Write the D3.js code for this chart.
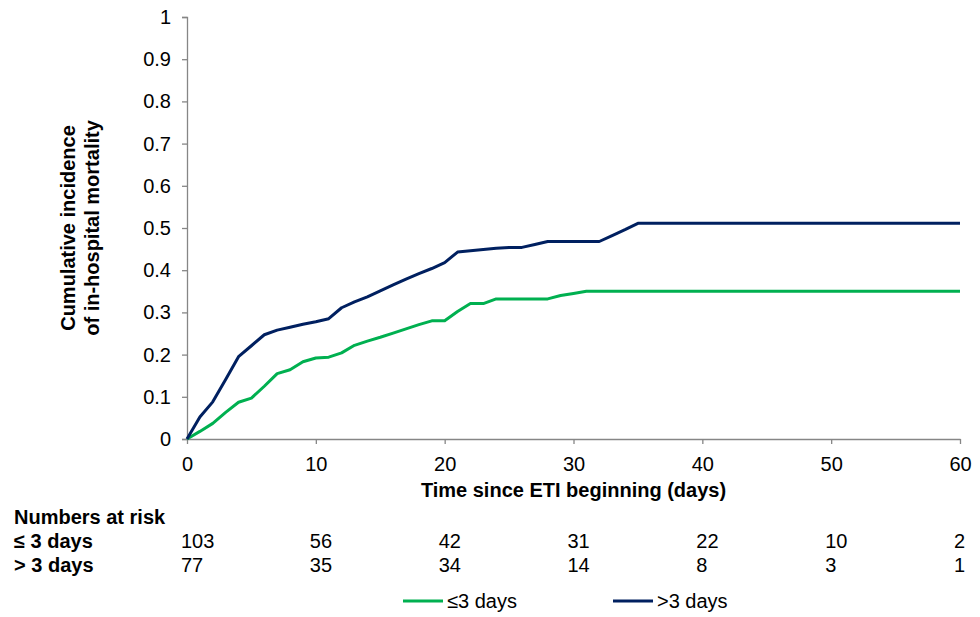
<!DOCTYPE html>
<html>
<head>
<meta charset="utf-8">
<script src="https://cdn.jsdelivr.net/npm/d3@7"></script>
<style>
  html, body { margin: 0; padding: 0; background: #fff; }
  svg { display: block; font-family: "Liberation Sans", Arial, sans-serif; }
</style>
</head>
<body>
<svg id="chart" width="980" height="617"></svg>
<script>
// ---- data ----
const days = [0,1,2,3,4,5,6,7,8,9,10,11,12,13,14,15,16,17,18,19,20,21,22,23,24,25,26,27,28,29,30,31,32,33,34,35,60];
const le3 = [0,0.018,0.037,0.063,0.087,0.097,0.125,0.155,0.164,0.183,0.192,0.194,0.204,0.222,0.232,0.241,0.251,0.261,0.271,0.28,0.28,0.302,0.321,0.321,0.332,0.332,0.332,0.332,0.332,0.34,0.345,0.35,0.35,0.35,0.35,0.35,0.35];
const gt3 = [0,0.052,0.088,0.141,0.195,0.221,0.247,0.258,0.265,0.272,0.278,0.285,0.311,0.325,0.337,0.351,0.365,0.379,0.392,0.404,0.418,0.443,0.446,0.449,0.452,0.454,0.454,0.461,0.468,0.468,0.468,0.468,0.468,0.482,0.496,0.511,0.511];
const seriesNames = ["≤3 days", ">3 days"];
const xTicks = [0,10,20,30,40,50,60];
const yTicks = [0,0.1,0.2,0.3,0.4,0.5,0.6,0.7,0.8,0.9,1];
const riskTimes = [0,10,20,30,40,50,60];
const riskLe3 = [103,56,42,31,22,10,2];
const riskGt3 = [77,35,34,14,8,3,1];
const riskRowLabels = ["≤ 3 days", "> 3 days"];

// ---- layout ----
const colors = ["#00B050", "#002060"];
const axisColor = "#868686";
const fs = 20;
const svg = d3.select("#chart");
const x = d3.scaleLinear().domain([0, 60]).range([187, 960]);
const y = d3.scaleLinear().domain([0, 1]).range([439, 17]);

// y axis
const yAxis = d3.axisLeft(y).tickValues(yTicks).tickSize(5).tickPadding(11)
  .tickFormat(d => d3.format("")(+d.toFixed(1)));
const gy = svg.append("g").attr("transform", `translate(${x(0)},0)`).call(yAxis);
gy.select(".domain").attr("stroke", axisColor).attr("stroke-width", 1.3);
gy.selectAll(".tick line").attr("stroke", axisColor).attr("stroke-width", 1.3);
gy.selectAll(".tick text").attr("font-size", fs).attr("fill", "#000")
  .attr("font-family", "Liberation Sans, Arial, sans-serif");

// x axis
const xAxis = d3.axisBottom(x).tickValues(xTicks).tickSize(5).tickPadding(13).tickSizeOuter(0);
const gx = svg.append("g").attr("transform", `translate(0,${y(0)})`).call(xAxis);
gx.select(".domain").attr("stroke", axisColor).attr("stroke-width", 1.3);
gx.selectAll(".tick line").attr("stroke", axisColor).attr("stroke-width", 1.3);
gx.selectAll(".tick text").attr("font-size", fs).attr("fill", "#000")
  .attr("font-family", "Liberation Sans, Arial, sans-serif");

// axis titles
svg.append("text").attr("x", (x(0) + x(60)) / 2).attr("y", 497)
  .attr("text-anchor", "middle").attr("font-size", fs).attr("font-weight", "bold")
  .text("Time since ETI beginning (days)");
const yt = svg.append("text").attr("transform", `translate(0,${y(0.5)}) rotate(-90)`)
  .attr("text-anchor", "middle").attr("font-size", fs).attr("font-weight", "bold");
yt.append("tspan").attr("x", 0).attr("y", 75).text("Cumulative incidence");
yt.append("tspan").attr("x", 0).attr("y", 99).text("of in-hospital mortality");

// lines
const line = d3.line().x((d, i) => x(days[i])).y(d => y(d));
[le3, gt3].forEach((s, k) => {
  svg.append("path").datum(s).attr("d", line)
    .attr("fill", "none").attr("stroke", colors[k]).attr("stroke-width", 3)
    .attr("stroke-linejoin", "round");
});

// numbers at risk table
svg.append("text").attr("x", 14).attr("y", 523.5).attr("font-size", fs)
  .attr("font-weight", "bold").text("Numbers at risk");
const rows = [riskLe3, riskGt3];
const rowY = [548, 572];
rows.forEach((r, k) => {
  svg.append("text").attr("x", 14).attr("y", rowY[k]).attr("font-size", fs)
    .attr("font-weight", "bold").text(riskRowLabels[k]);
  svg.append("g").selectAll("text").data(r).join("text")
    .attr("x", (d, i) => x(riskTimes[i]) - 6)
    .attr("y", rowY[k]).attr("font-size", fs).attr("text-anchor", "start")
    .text(d => d);
});

// legend
const legX = [403, 613];
seriesNames.forEach((n, k) => {
  svg.append("line").attr("x1", legX[k]).attr("x2", legX[k] + 40)
    .attr("y1", 601).attr("y2", 601).attr("stroke", colors[k]).attr("stroke-width", 3);
  svg.append("text").attr("x", legX[k] + 44).attr("y", 608).attr("font-size", fs).text(n);
});
</script>
</body>
</html>
